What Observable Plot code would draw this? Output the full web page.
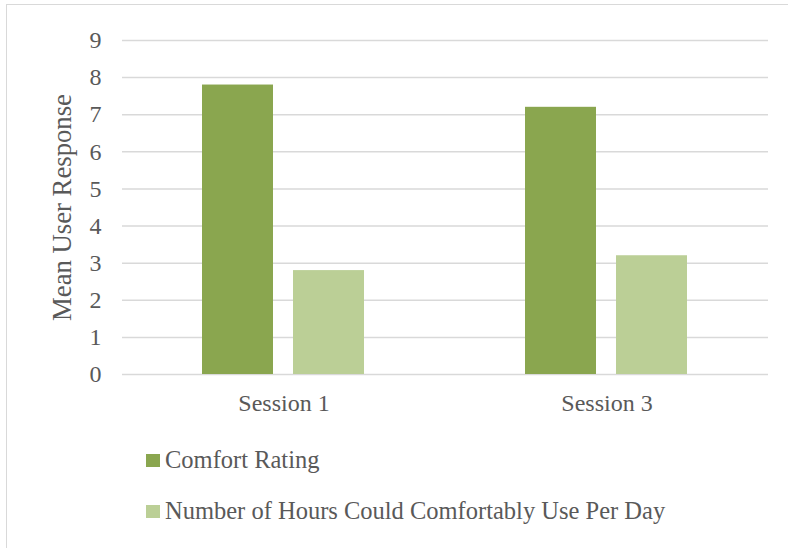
<!DOCTYPE html>
<html>
<head>
<meta charset="utf-8">
<script src="https://cdn.jsdelivr.net/npm/d3@7"></script>
<script src="https://cdn.jsdelivr.net/npm/@observablehq/plot@0.6"></script>
<style>
  html, body { margin: 0; padding: 0; background: #fff; }
  #wrap { position: relative; width: 788px; height: 548px; overflow: hidden; font-family: "Liberation Serif", serif; color: #595959; }
  #frame { position: absolute; left: 6px; top: 4px; width: 800px; height: 560px; border-left: 1.5px solid #d9d9d9; border-top: 1.5px solid #d9d9d9; box-sizing: border-box; }
  #chart { position: absolute; left: 0; top: 0; }
  .leg { position: absolute; left: 146px; display: flex; align-items: center; font-size: 24.5px; line-height: 1; white-space: nowrap; }
  .sw { width: 14px; height: 13px; margin-right: 5px; }
</style>
</head>
<body>
<div id="wrap">
  <div id="frame"></div>
  <div id="chart"></div>
</div>
<script>
const sessions = ["Session 1", "Session 3"];
const seriesNames = ["Comfort Rating", "Number of Hours Could Comfortably Use Per Day"];
const comfortRating = [7.8, 7.2];
const hoursPerDay = [2.8, 3.2];
const seriesColors = ["#8aa64f", "#bbcf96"];
const yTicks = [0, 1, 2, 3, 4, 5, 6, 7, 8, 9];
const yLabel = "Mean User Response";

const data = [];
sessions.forEach((s, i) => {
  data.push({session: s, series: seriesNames[0], value: comfortRating[i]});
  data.push({session: s, series: seriesNames[1], value: hoursPerDay[i]});
});

const plot = Plot.plot({
  width: 788,
  height: 430,
  marginLeft: 121,
  marginRight: 20,
  marginTop: 40,
  marginBottom: 56,
  style: {fontFamily: "Liberation Serif, serif", fontSize: "24px", color: "#595959", background: "transparent"},
  fx: {domain: sessions, padding: 0, axis: "bottom", tickSize: 0, tickPadding: 19, label: null},
  x: {domain: seriesNames, axis: null, paddingInner: 0.217, paddingOuter: 0.867},
  y: {domain: [0, 9], ticks: yTicks, tickSize: 0, tickPadding: 21, label: yLabel, labelAnchor: "center", labelOffset: 70, labelArrow: false},
  color: {domain: seriesNames, range: seriesColors},
  marks: [
    Plot.ruleY(yTicks, {stroke: "#d9d9d9", strokeWidth: 1.5}),
    Plot.barY(data, {fx: "session", x: "series", y: "value", fill: "series"})
  ]
});
document.getElementById("chart").appendChild(plot);

// enlarge axis title
d3.select(plot).selectAll("g[aria-label='y-axis label'] text").style("font-size", "26.7px");

const wrap = document.getElementById("wrap");
const legendTops = [448, 499];
seriesNames.forEach((name, i) => {
  const row = document.createElement("div");
  row.className = "leg";
  row.style.top = legendTops[i] + "px";
  const sw = document.createElement("span");
  sw.className = "sw";
  sw.style.background = seriesColors[i];
  const tx = document.createElement("span");
  tx.textContent = name;
  row.appendChild(sw);
  row.appendChild(tx);
  wrap.appendChild(row);
});
</script>
</body>
</html>
